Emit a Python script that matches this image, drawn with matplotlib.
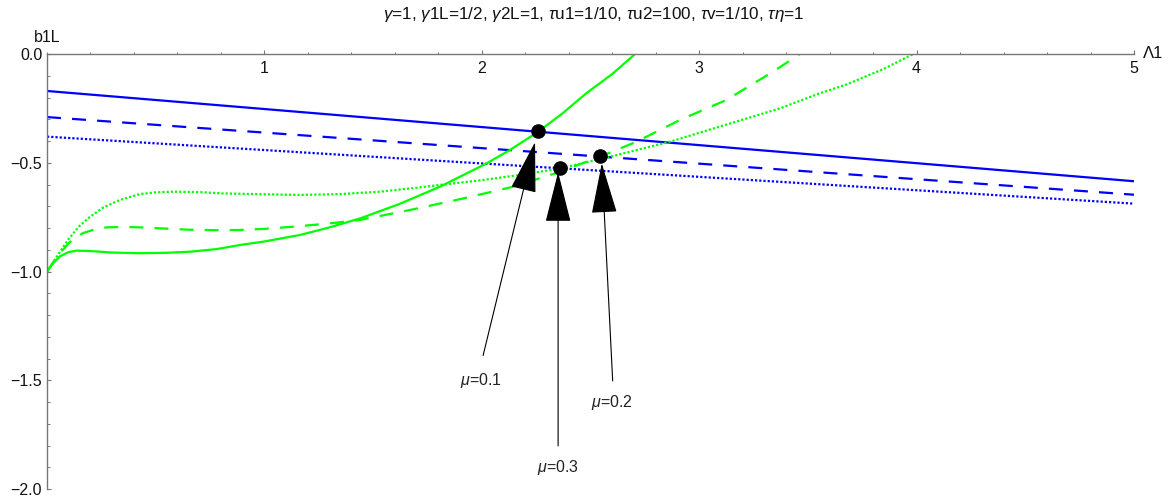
import matplotlib
matplotlib.use("Agg")
import matplotlib.pyplot as plt
from matplotlib.ticker import MultipleLocator, FixedLocator

plt.rcParams['font.family'] = ['Liberation Sans', 'DejaVu Sans']
plt.rcParams['mathtext.fontset'] = 'custom'
plt.rcParams['mathtext.rm'] = 'Liberation Sans'
plt.rcParams['mathtext.it'] = 'Liberation Sans:italic'

# ---------------- data ----------------
blue_x = [0.0, 5.0]
blue_solid = [-0.170, -0.585]
blue_dashed = [-0.290, -0.647]
blue_dotted = [-0.380, -0.688]

green_solid_x = [0, 0.03, 0.06, 0.098, 0.137, 0.2, 0.3, 0.428, 0.55, 0.658, 0.78, 0.888,
                 1.0, 1.164, 1.3, 1.44, 1.62, 1.808, 2.022, 2.13, 2.26, 2.37, 2.48, 2.6, 2.705]
green_solid_y = [-1.0, -0.960, -0.930, -0.911, -0.904, -0.906, -0.913, -0.916, -0.914, -0.909,
                 -0.897, -0.878, -0.862, -0.832, -0.797, -0.756, -0.690, -0.610, -0.503, -0.441,
                 -0.357, -0.274, -0.181, -0.092, 0.0]

green_dashed_x = [0, 0.03, 0.06, 0.1, 0.13, 0.167, 0.22, 0.275, 0.35, 0.428, 0.55, 0.658, 0.78,
                  0.888, 1.0, 1.133, 1.3, 1.44, 1.685, 1.915, 2.145, 2.35, 2.544, 2.712, 2.912,
                  3.126, 3.34, 3.463]
green_dashed_y = [-1.0, -0.955, -0.915, -0.870, -0.843, -0.823, -0.806, -0.797, -0.795, -0.797,
                  -0.803, -0.808, -0.810, -0.809, -0.804, -0.794, -0.779, -0.763, -0.714, -0.664,
                  -0.610, -0.545, -0.472, -0.403, -0.303, -0.211, -0.081, 0.0]

green_dotted_x = [0, 0.03, 0.06, 0.1, 0.15, 0.198, 0.26, 0.336, 0.428, 0.5, 0.58, 0.7, 0.81, 1.0,
                  1.164, 1.35, 1.532, 1.7, 1.808, 2.0, 2.176, 2.36, 2.6, 2.866, 3.1, 3.372, 3.556,
                  3.678, 3.85, 3.985]
green_dotted_y = [-1.0, -0.955, -0.909, -0.850, -0.790, -0.748, -0.705, -0.671, -0.644, -0.636,
                  -0.633, -0.635, -0.641, -0.645, -0.648, -0.644, -0.633, -0.615, -0.602, -0.580,
                  -0.556, -0.526, -0.470, -0.403, -0.332, -0.250, -0.180, -0.140, -0.068, 0.0]

dot_x = [2.258, 2.360, 2.544]
dot_y = [-0.356, -0.526, -0.470]

mu_labels = ['$\\mu$=0.1', '$\\mu$=0.3', '$\\mu$=0.2']
arrow_tail_x = [2.006, 2.351, 2.602]
arrow_tail_y = [-1.386, -1.802, -1.503]
arrow_tip_x = [2.245, 2.351, 2.552]
arrow_tip_y = [-0.405, -0.543, -0.503]
label_x = [1.996, 2.351, 2.599]
label_y = [-1.503, -1.899, -1.600]

x_ticks = [1, 2, 3, 4, 5]
y_ticks = [0.0, -0.5, -1.0, -1.5, -2.0]
title = ('$\\gamma$=1, $\\gamma$1L=1/2, $\\gamma$2L=1, $\\tau$u1=1/10, '
         '$\\tau$u2=100, $\\tau$v=1/10, $\\tau\\eta$=1')

# ---------------- figure ----------------
W, H = 1172, 501
fig = plt.figure(figsize=(W / 100, H / 100), dpi=100)
ax = fig.add_axes([47 / W, 12 / H, 1087 / W, 435 / H])
ax.set_xlim(0, 5)
ax.set_ylim(-2, 0)

BLUE = '#0000ff'
GREEN = '#00ff00'
lw = 1.6
dash = (6.3, 5.0)
dot = (1.0, 0.9)

ax.plot(blue_x, blue_solid, color=BLUE, lw=lw)
ax.plot(blue_x, blue_dashed, color=BLUE, lw=lw, dashes=dash, dash_capstyle='butt')
ax.plot(blue_x, blue_dotted, color=BLUE, lw=lw, dashes=dot, dash_capstyle='butt')

ax.plot(green_solid_x, green_solid_y, color=GREEN, lw=lw)
ax.plot(green_dashed_x, green_dashed_y, color=GREEN, lw=lw, dashes=dash, dash_capstyle='butt')
ax.plot(green_dotted_x, green_dotted_y, color=GREEN, lw=lw, dashes=dot, dash_capstyle='butt')

for i in range(len(mu_labels)):
    ax.annotate('', xy=(arrow_tip_x[i], arrow_tip_y[i]),
                xytext=(arrow_tail_x[i], arrow_tail_y[i]),
                arrowprops=dict(arrowstyle='-|>,head_length=33,head_width=8.3',
                                mutation_scale=1, color='black', lw=0.8,
                                shrinkA=0, shrinkB=0), zorder=5)
    ax.text(label_x[i], label_y[i], mu_labels[i], ha='center', va='center',
            fontsize=11.5, color='#222222')

ax.plot(dot_x, dot_y, 'o', color='black', ms=9.5, zorder=6)

# axes styling (Mathematica-like)
AXC = '#777777'
for s in ['top', 'right']:
    ax.spines[s].set_visible(False)
ax.spines['bottom'].set_position(('data', 0))
ax.spines['bottom'].set_color(AXC)
ax.spines['left'].set_color(AXC)
ax.spines['bottom'].set_linewidth(1.0)
ax.spines['left'].set_linewidth(1.0)

ax.xaxis.set_major_locator(FixedLocator(x_ticks))
ax.xaxis.set_minor_locator(MultipleLocator(0.2))
ax.yaxis.set_major_locator(FixedLocator(y_ticks))
ax.yaxis.set_minor_locator(MultipleLocator(0.1))
ax.set_xticklabels([str(v) for v in x_ticks])
ax.set_yticklabels([f'{v:.1f}'.replace('-', '\u2212') for v in y_ticks])

ax.tick_params(axis='x', which='both', direction='in', color=AXC, labelsize=11.5,
               labelcolor='#111111', pad=5)
ax.tick_params(axis='y', which='both', direction='in', color=AXC, labelsize=11.5,
               labelcolor='#111111', pad=3.5)
ax.tick_params(which='major', length=3.2, width=0.8)
ax.tick_params(which='minor', length=1.8, width=0.7)
ax.patch.set_alpha(0)

fig.text(47 / W, 1 - 38 / H, 'b1L', ha='center', va='center', fontsize=11.5, color='#111111')
fig.text(1143 / W, 1 - 53 / H, '\u039b1', ha='left', va='center', fontsize=12, color='#111111')
fig.text(594 / W, 1 - 14 / H, title, ha='center', va='center', fontsize=12.3, color='#111111')

fig.savefig('out.png', dpi=100)
